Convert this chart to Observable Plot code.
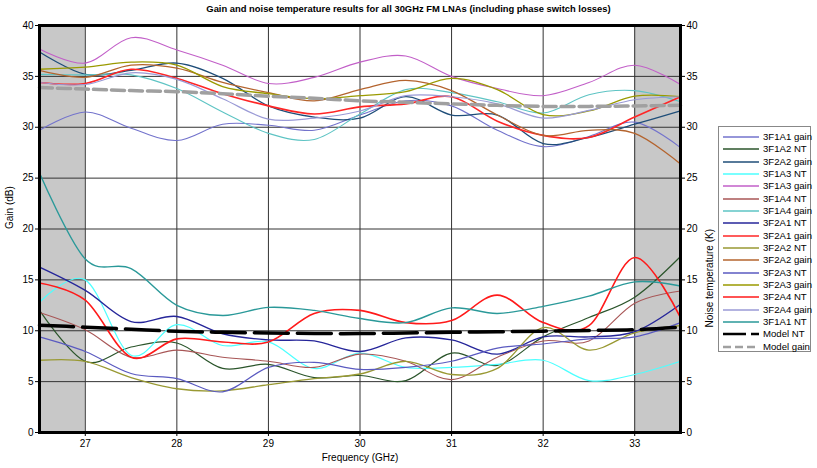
<!DOCTYPE html>
<html>
<head>
<meta charset="utf-8">
<script src="https://cdn.jsdelivr.net/npm/d3@7"></script>
<script src="https://cdn.jsdelivr.net/npm/@observablehq/plot@0.6"></script>
<style>
  html, body { margin: 0; padding: 0; background: #fff; }
  #wrap { position: relative; width: 817px; height: 468px; font-family: "Liberation Sans", Arial, sans-serif; }
  #title { position: absolute; left: 0; top: 3px; width: 817px; text-align: center; font-weight: bold; font-size: 9.4px; color: #000; }
  #chart { position: absolute; left: 0; top: 18px; }
  #legend { position: absolute; left: 718px; top: 126px; width: 93px; height: 226px; border: 1px solid #888; box-sizing: border-box; background: #fff; }
  .li { position: absolute; left: 0; height: 12px; width: 93px; font-size: 9.6px; line-height: 12px; color: #000; }
  .li svg { position: absolute; left: 3px; top: 0; }
  .li span { position: absolute; left: 44px; top: 0; white-space: nowrap; }
</style>
</head>
<body>
<div id="wrap">
  <div id="title">Gain and noise temperature results for all 30GHz FM LNAs (including phase switch losses)</div>
  <div id="chart"></div>
  <div id="legend"></div>
</div>
<script>
// ---- data ----
const freq = [26.5, 27, 27.5, 28, 28.5, 29, 29.5, 30, 30.5, 31, 31.5, 32, 32.5, 33, 33.5];
const xTicks = [27, 28, 29, 30, 31, 32, 33];
const yTicks = [0, 5, 10, 15, 20, 25, 30, 35, 40];
const shadedBands = [[26.5, 27], [33, 33.5]];

const gain_3F1A1 = [29.7, 31.5, 29.9, 28.7, 30.3, 30.2, 29.7, 31.2, 32.6, 32.1, 29.7, 28.1, 29.1, 30.5, 28.0];
const nt_3F1A2   = [12.0, 7.0, 8.4, 8.8, 6.3, 6.7, 5.4, 5.6, 5.1, 7.8, 6.6, 9.4, 11.3, 13.3, 17.3];
const gain_3F2A2a = [37.4, 35.2, 35.6, 36.3, 34.8, 32.1, 31.0, 30.9, 33.0, 31.2, 31.2, 28.4, 29.0, 30.3, 31.6];
const nt_3F1A3   = [12.8, 15.0, 7.6, 10.6, 8.55, 8.9, 6.3, 7.8, 6.4, 6.4, 6.7, 7.1, 5.1, 5.7, 7.0];
const gain_3F1A3 = [37.7, 36.3, 38.8, 37.6, 36.1, 34.3, 34.9, 36.4, 37.0, 35.0, 33.8, 33.1, 34.4, 36.1, 34.2];
const nt_3F1A4   = [11.8, 10.1, 7.4, 8.1, 7.4, 7.0, 6.4, 7.7, 7.0, 5.2, 7.4, 9.0, 9.0, 12.7, 13.9];
const gain_3F1A4 = [35.2, 35.15, 35.15, 33.8, 31.5, 29.4, 28.8, 31.3, 33.7, 33.4, 32.5, 31.4, 33.2, 33.6, 32.5];
const nt_3F2A1   = [16.25, 13.96, 10.9, 11.4, 9.7, 9.1, 9.0, 7.96, 9.3, 9.1, 7.7, 9.4, 9.4, 9.9, 12.6];
const gain_3F2A1 = [34.4, 34.3, 35.7, 34.8, 33.3, 32.1, 31.3, 32.0, 32.3, 33.0, 30.6, 29.2, 29.0, 31.0, 33.0];
const nt_3F2A2   = [7.1, 7.0, 5.4, 4.3, 4.1, 4.7, 5.3, 5.75, 7.0, 5.7, 6.3, 10.3, 8.1, 9.8, 10.5];
const gain_3F2A2b = [35.6, 34.9, 36.1, 35.8, 34.4, 33.4, 32.6, 33.7, 34.6, 33.6, 31.2, 29.2, 29.7, 29.4, 26.4];
const nt_3F2A3   = [9.4, 7.96, 5.8, 5.3, 4.0, 6.4, 6.9, 6.2, 6.4, 7.0, 8.3, 8.7, 9.2, 9.4, 10.8];
const gain_3F2A3 = [35.7, 35.9, 36.4, 36.1, 34.0, 33.3, 32.8, 33.1, 33.5, 34.8, 33.7, 31.25, 31.6, 33.05, 33.0];
const nt_3F2A4   = [14.7, 13.0, 7.4, 9.2, 8.9, 8.9, 11.7, 12.0, 10.8, 11.0, 13.5, 10.8, 10.5, 17.2, 11.3];
const gain_3F2A4 = [34.4, 34.2, 35.35, 34.7, 32.8, 30.8, 30.9, 31.6, 33.1, 33.0, 32.3, 30.9, 31.65, 32.7, 33.0];
const nt_3F1A1   = [25.5, 17.05, 16.1, 12.5, 11.5, 12.3, 12.0, 11.2, 10.8, 12.25, 11.7, 12.4, 13.4, 14.8, 14.4];
const model_NT   = [10.55, 10.35, 10.15, 9.95, 9.85, 9.78, 9.73, 9.72, 9.78, 9.85, 9.9, 9.96, 10.03, 10.1, 10.35];
const model_gain = [33.9, 33.75, 33.6, 33.5, 33.3, 33.05, 32.85, 32.6, 32.45, 32.3, 32.15, 32.05, 32.05, 32.1, 32.15];

const seriesNames = ["3F1A1 gain","3F1A2 NT","3F2A2 gain","3F1A3 NT","3F1A3 gain","3F1A4 NT","3F1A4 gain","3F2A1 NT",
  "3F2A1 gain","3F2A2 NT","3F2A2 gain","3F2A3 NT","3F2A3 gain","3F2A4 NT","3F2A4 gain","3F1A1 NT","Model NT","Model gain"];

// ---- styles (kept separate from data) ----
const seriesValues = [gain_3F1A1, nt_3F1A2, gain_3F2A2a, nt_3F1A3, gain_3F1A3, nt_3F1A4, gain_3F1A4, nt_3F2A1,
  gain_3F2A1, nt_3F2A2, gain_3F2A2b, nt_3F2A3, gain_3F2A3, nt_3F2A4, gain_3F2A4, nt_3F1A1, model_NT, model_gain];
const styles = [
  {stroke: "#7373cc", w: 1.1},
  {stroke: "#2b552b", w: 1.2},
  {stroke: "#1f4e79", w: 1.3},
  {stroke: "#4dffff", w: 1.2},
  {stroke: "#c25fc8", w: 1.1},
  {stroke: "#a85656", w: 1.1},
  {stroke: "#5ec4c4", w: 1.1},
  {stroke: "#26269a", w: 1.4},
  {stroke: "#ff2626", w: 1.6},
  {stroke: "#999933", w: 1.3},
  {stroke: "#b4642e", w: 1.3},
  {stroke: "#5a5ac0", w: 1.2},
  {stroke: "#9a9a00", w: 1.3},
  {stroke: "#ff1a1a", w: 1.6},
  {stroke: "#9a9ad6", w: 1.2},
  {stroke: "#2a9999", w: 1.4},
  {stroke: "#000000", w: 3.5, dash: "34,9"},
  {stroke: "#a0a0a0", w: 3.5, dash: "13,5"}
];

const lineMarks = seriesValues.map((vals, i) => {
  const rows = freq.map((f, j) => ({f, v: vals[j]}));
  const st = styles[i];
  return Plot.line(rows, {x: "f", y: "v", stroke: st.stroke, strokeWidth: st.w,
    strokeDasharray: st.dash, curve: "cardinal"});
});

const chart = Plot.plot({
  width: 817,
  height: 450,
  marginLeft: 39,
  marginRight: 137,
  marginTop: 7,
  marginBottom: 36,
  style: {fontFamily: "'Liberation Sans', Arial, sans-serif", fontSize: "10px", color: "#000", background: "#fff"},
  x: {domain: [26.5, 33.5]},
  y: {domain: [0, 40]},
  marks: [
    Plot.rect(shadedBands, {x1: d => d[0], x2: d => d[1], y1: 0, y2: 40, fill: "#c8c8c8"}),
    Plot.ruleY(yTicks, {stroke: "#333", strokeWidth: 1}),
    Plot.ruleX(xTicks, {stroke: "#333", strokeWidth: 1}),
    ...lineMarks,
    Plot.frame({stroke: "#000", strokeWidth: 3}),
    Plot.axisY(yTicks, {anchor: "left", tickSize: 4, tickPadding: 2, label: null}),
    Plot.axisY(yTicks, {anchor: "right", tickSize: 4, tickPadding: 2, label: null}),
    Plot.axisX(xTicks, {anchor: "bottom", tickSize: 4, tickPadding: 3, label: null}),
    Plot.text(["Gain (dB)"], {frameAnchor: "left", dx: -30, rotate: -90, fontSize: 10}),
    Plot.text(["Noise temperature (K)"], {frameAnchor: "right", dx: 29, rotate: -90, fontSize: 10}),
    Plot.text(["Frequency (GHz)"], {frameAnchor: "bottom", dy: 28, fontSize: 10})
  ]
});
document.getElementById("chart").appendChild(chart);

// ---- legend ----
const legend = document.getElementById("legend");
seriesNames.forEach((name, i) => {
  const st = styles[i];
  const row = document.createElement("div");
  row.className = "li";
  row.style.top = (4 + i * 12.33) + "px";
  const dash = i === 16 ? "23,5" : (st.dash ? "8,4" : null);
  row.innerHTML = `<svg width="38" height="12"><line x1="1" x2="37" y1="6" y2="6" stroke="${st.stroke}" stroke-width="${i >= 16 ? 2.6 : 1.5}" ${dash ? `stroke-dasharray="${dash}"` : ""}/></svg><span>${name}</span>`;
  legend.appendChild(row);
});
</script>
</body>
</html>
